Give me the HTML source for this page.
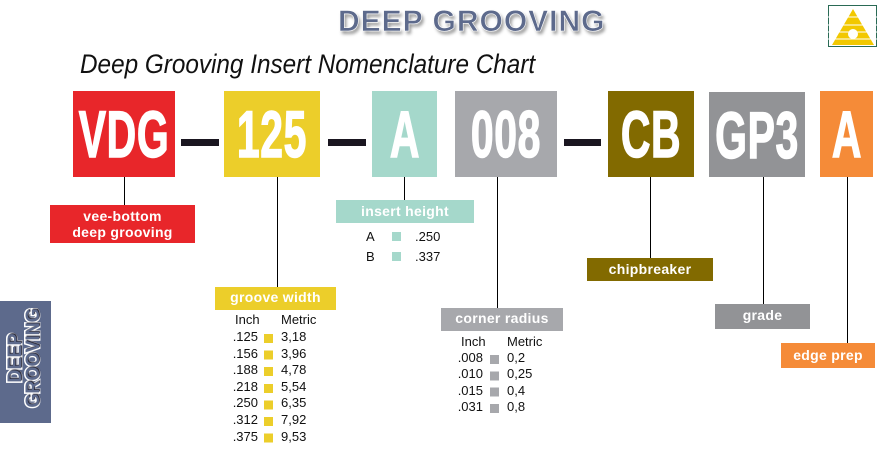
<!DOCTYPE html>
<html><head><style>
body{margin:0;width:893px;height:467px;background:#fff;position:relative;overflow:hidden;font-family:"Liberation Sans",sans-serif}
.a{position:absolute}
.box{position:absolute;overflow:visible}
.box span{position:absolute;left:50%;top:50%;color:#fff;font-weight:bold;font-size:66px;line-height:66px;white-space:nowrap;transform:translate(-50%,-50%) scaleX(0.62);letter-spacing:1px;-webkit-text-stroke:1.5px #fff}
.lbl{position:absolute;color:#fff;font-weight:bold;font-size:14px;text-align:center;letter-spacing:0.3px}
.v{position:absolute;width:1px;background:#000}
.d{position:absolute;height:7px;background:#1a1620;top:139px}
.t{position:absolute;font-size:13px;color:#111}
.sq{position:absolute;width:9px;height:9px}
</style></head><body>
<div class="a" style="left:338px;top:5px;font-size:30px;font-weight:bold;color:#5d6a8c;letter-spacing:1px;text-shadow:2px 3px 3px #999;-webkit-text-stroke:0.6px #fff">DEEP GROOVING</div>
<div class="a" style="left:80px;top:49px;font-size:27px;font-style:italic;color:#111;transform:scaleX(0.9);transform-origin:left">Deep Grooving Insert Nomenclature Chart</div>
<svg class="a" style="left:828px;top:5px" width="50" height="43"><rect x="0.5" y="0.5" width="48" height="41" fill="#fff" stroke="#2a6a55"/><polygon points="25,4 4,40 46,40" fill="#f2c800"/><g stroke="#fff" stroke-width="1"><line x1="0" y1="12" x2="50" y2="12"/><line x1="0" y1="20" x2="50" y2="20"/><line x1="0" y1="27" x2="50" y2="27"/><line x1="0" y1="34" x2="50" y2="34"/></g><circle cx="25" cy="29" r="5" fill="#fff"/></svg>

<div class="box" style="left:73px;top:91px;width:102px;height:86px;background:#e8262a"><span>VDG</span></div>
<div class="box" style="left:224px;top:91px;width:96px;height:86px;background:#ecce2a"><span>125</span></div>
<div class="box" style="left:372px;top:91px;width:65px;height:86px;background:#a5d8cb"><span>A</span></div>
<div class="box" style="left:455px;top:91px;width:102px;height:86px;background:#a7a8ac"><span>008</span></div>
<div class="box" style="left:608px;top:91px;width:86px;height:86px;background:#826a00"><span>CB</span></div>
<div class="box" style="left:709px;top:92px;width:96px;height:85px;background:#929396"><span>GP3</span></div>
<div class="box" style="left:820px;top:91px;width:53px;height:86px;background:#f58b38"><span>A</span></div>
<div class="d" style="left:181px;width:38px"></div>
<div class="d" style="left:328px;width:38px"></div>
<div class="d" style="left:564px;width:37px"></div>

<div class="v" style="left:124px;top:177px;height:28px"></div>
<div class="v" style="left:277px;top:177px;height:110px"></div>
<div class="v" style="left:404px;top:177px;height:23px"></div>
<div class="v" style="left:497px;top:177px;height:131px"></div>
<div class="v" style="left:650px;top:177px;height:81px"></div>
<div class="v" style="left:763px;top:177px;height:127px"></div>
<div class="v" style="left:847px;top:177px;height:166px"></div>

<div class="lbl" style="left:50px;top:205px;width:145px;height:38px;background:#e8262a;line-height:16px;padding-top:3px;box-sizing:border-box">vee-bottom<br>deep grooving</div>
<div class="lbl" style="left:215px;top:287px;width:121px;height:23px;line-height:21px;background:#ecce2a">groove width</div>
<div class="lbl" style="left:336px;top:200px;width:138px;height:23px;line-height:22px;background:#a5d8cb">insert height</div>
<div class="lbl" style="left:441px;top:308px;width:122px;height:23px;line-height:21px;background:#a7a8ac">corner radius</div>
<div class="lbl" style="left:587px;top:258px;width:126px;height:23px;line-height:23px;background:#826a00">chipbreaker</div>
<div class="lbl" style="left:715px;top:304px;width:95px;height:25px;line-height:23px;background:#929396">grade</div>
<div class="lbl" style="left:781px;top:343px;width:94px;height:25px;line-height:24px;background:#f58b38">edge prep</div>

<div class="t" style="left:366px;top:229px">A</div><div class="sq" style="left:392px;top:232px;background:#a5d8cb"></div><div class="t" style="left:415px;top:229px">.250</div>
<div class="t" style="left:366px;top:249px">B</div><div class="sq" style="left:392px;top:252px;background:#a5d8cb"></div><div class="t" style="left:415px;top:249px">.337</div>

<div class="t" style="left:235px;top:312px">Inch</div><div class="t" style="left:281px;top:312px">Metric</div>
<div class="t" style="left:230px;top:329px;line-height:16.6px;text-align:right;width:28px">.125<br>.156<br>.188<br>.218<br>.250<br>.312<br>.375</div>
<div class="t" style="left:281px;top:329px;line-height:16.6px">3,18<br>3,96<br>4,78<br>5,54<br>6,35<br>7,92<br>9,53</div>
<div class="a" style="left:264px;top:334px;width:9px;height:110px;background:repeating-linear-gradient(#ecce2a 0 9px,#fff 9px 16.6px)"></div>

<div class="t" style="left:461px;top:334px">Inch</div><div class="t" style="left:507px;top:334px">Metric</div>
<div class="t" style="left:455px;top:350px;line-height:16.3px;text-align:right;width:28px">.008<br>.010<br>.015<br>.031</div>
<div class="t" style="left:507px;top:350px;line-height:16.3px">0,2<br>0,25<br>0,4<br>0,8</div>
<div class="a" style="left:490px;top:355px;width:9px;height:65px;background:repeating-linear-gradient(#a7a8ac 0 9px,#fff 9px 16.3px)"></div>

<div class="a" style="left:0;top:301px;width:51px;height:122px;background:#5d6a8c"></div>
<div class="a" style="left:25px;top:358px;transform:translate(-50%,-50%) rotate(-90deg) scaleX(0.95);color:#5d6a8c;font-weight:bold;font-size:19px;line-height:18px;text-align:center;-webkit-text-stroke:3px #fff;paint-order:stroke fill;white-space:nowrap;text-shadow:1px 1px 1px #223">DEEP<br>GROOVING</div>
</body></html>
